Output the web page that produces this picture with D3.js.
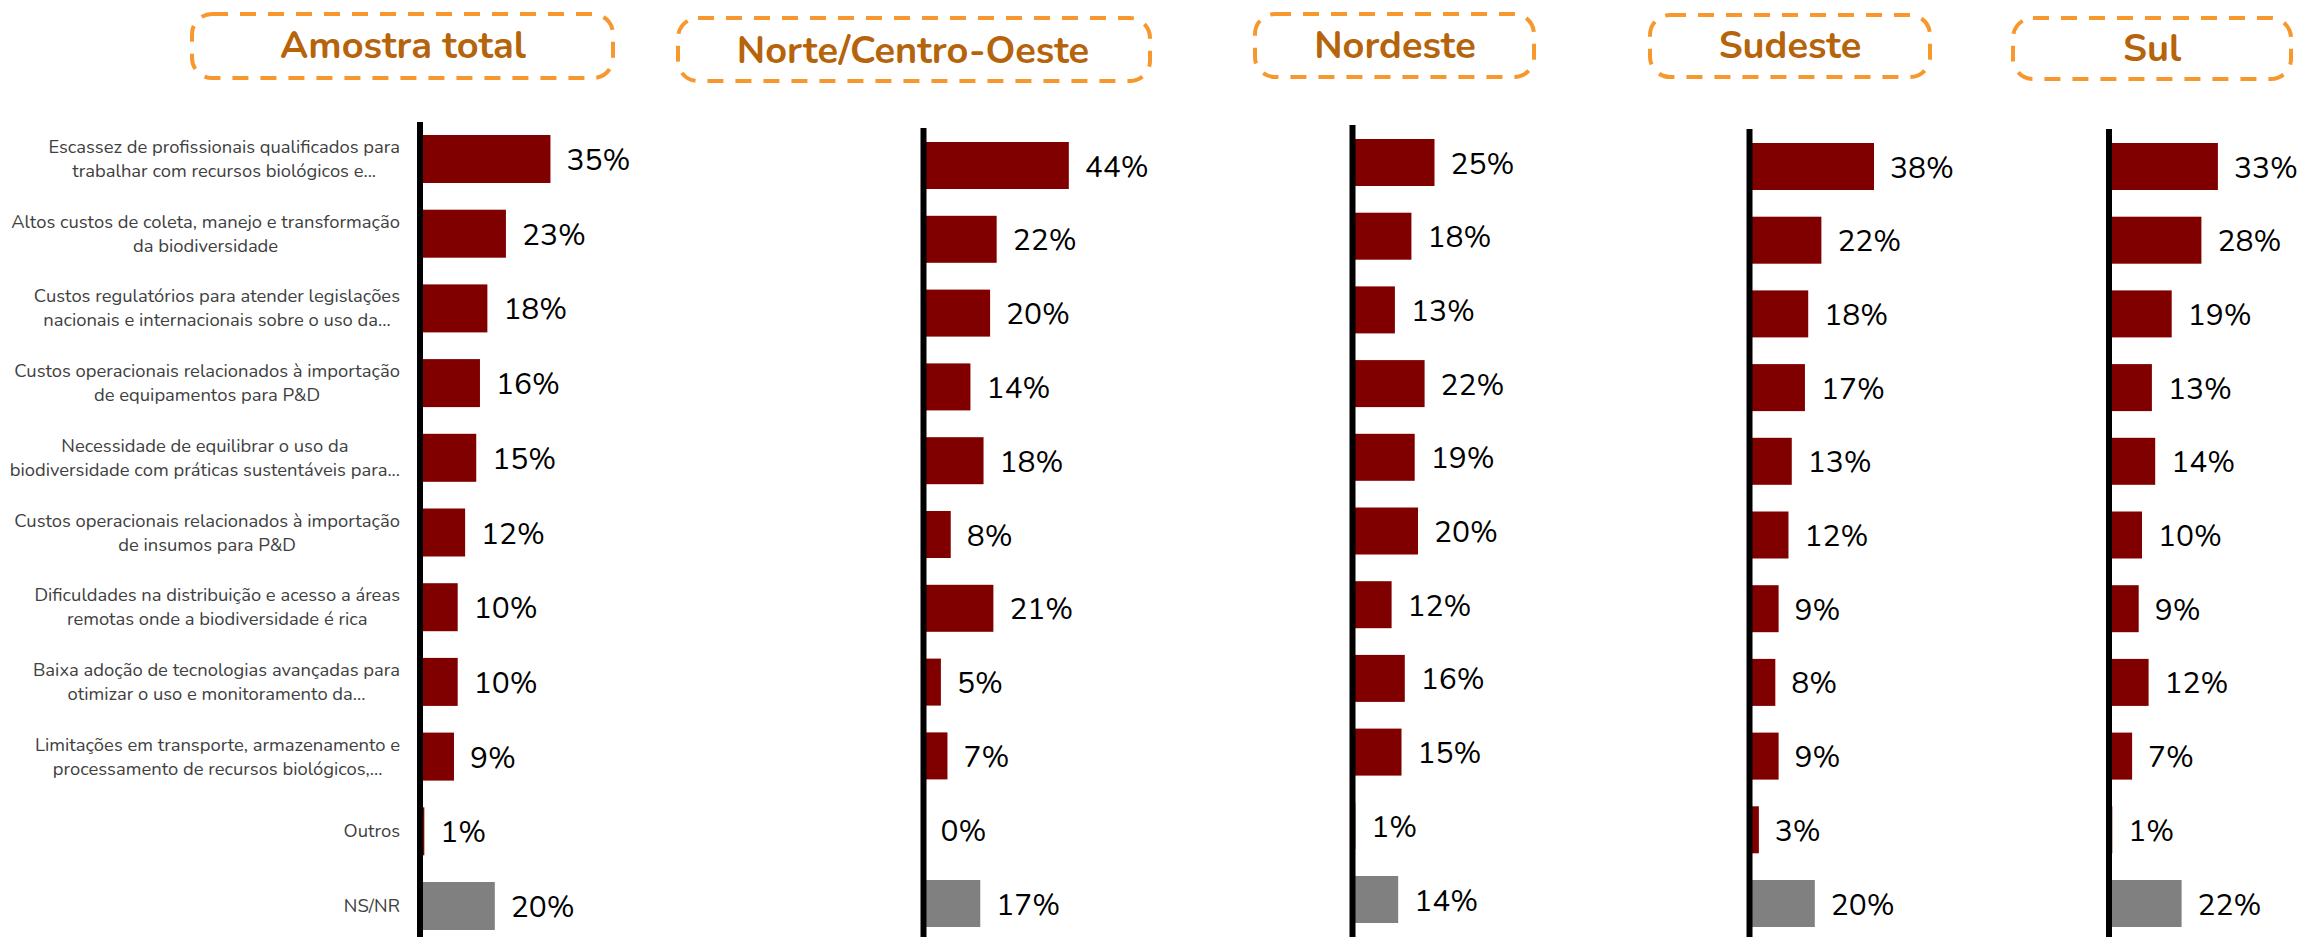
<!DOCTYPE html>
<html lang="pt-BR">
<head>
<meta charset="utf-8">
<title>Desafios no uso da biodiversidade por região</title>
<script src="https://cdn.jsdelivr.net/npm/d3@7"></script>
<style>
  html, body { margin: 0; padding: 0; background: #ffffff; }
  svg { display: block; }
</style>
</head>
<body>
<svg id="chart" width="2298" height="937"></svg>
<script>
// ---- Data -------------------------------------------------------------
const categories = [
  "Escassez de profissionais qualificados para\ntrabalhar com recursos biológicos e...",
  "Altos custos de coleta, manejo e transformação\nda biodiversidade",
  "Custos regulatórios para atender legislações\nnacionais e internacionais sobre o uso da...",
  "Custos operacionais relacionados à importação\nde equipamentos para P&D",
  "Necessidade de equilibrar o uso da\nbiodiversidade com práticas sustentáveis para...",
  "Custos operacionais relacionados à importação\nde insumos para P&D",
  "Dificuldades na distribuição e acesso a áreas\nremotas onde a biodiversidade é rica",
  "Baixa adoção de tecnologias avançadas para\notimizar o uso e monitoramento da...",
  "Limitações em transporte, armazenamento e\nprocessamento de recursos biológicos,...",
  "Outros",
  "NS/NR"
];

const regionTitles = ["Amostra total", "Norte/Centro-Oeste", "Nordeste", "Sudeste", "Sul"];

const amostraTotal     = [35, 23, 18, 16, 15, 12, 10, 10, 9, 1, 20];
const norteCentroOeste = [44, 22, 20, 14, 18, 8, 21, 5, 7, 0, 17];
const nordeste         = [25, 18, 13, 22, 19, 20, 12, 16, 15, 1, 14];
const sudeste          = [38, 22, 18, 17, 13, 12, 9, 8, 9, 3, 20];
const sul              = [33, 28, 19, 13, 14, 10, 9, 12, 7, 1, 22];

const seriesValues = [amostraTotal, norteCentroOeste, nordeste, sudeste, sul];

// ---- Layout -----------------------------------------------------------
const panelLayout = [
  { zero: 420.6, pxPerPct: 3.71, top: 135, step: 74.7, barH: 48, axisX: 420,    axisTop: 122, box: [190, 12, 615, 80],   titleX: 403,  titleY: 58 },
  { zero: 924.5, pxPerPct: 3.28, top: 142, step: 73.8, barH: 47, axisX: 923.5,  axisTop: 128, box: [676, 16, 1152, 83],  titleX: 913,  titleY: 63 },
  { zero: 1352,  pxPerPct: 3.30, top: 139, step: 73.7, barH: 47, axisX: 1352.5, axisTop: 125, box: [1253, 12, 1536, 79], titleX: 1395, titleY: 58 },
  { zero: 1749,  pxPerPct: 3.29, top: 143, step: 73.7, barH: 47, axisX: 1749.5, axisTop: 129, box: [1648, 13, 1932, 79], titleX: 1790, titleY: 58 },
  { zero: 2109,  pxPerPct: 3.30, top: 143, step: 73.7, barH: 47, axisX: 2109,   axisTop: 129, box: [2011, 16, 2293, 81], titleX: 2152, titleY: 61 }
];

const COLOR_BAR = "#800000";
const COLOR_NSNR = "#808080";
const COLOR_TITLE = "#b5640c";
const COLOR_BOX = "#f7982e";
const FONT = "'Nunito', 'Lato', 'Noto Sans', sans-serif";

const svg = d3.select("#chart");

panelLayout.forEach((L, i) => {
  const values = seriesValues[i];
  const g = svg.append("g").attr("class", "panel");

  // Title box with dashed rounded border
  const [bx0, by0, bx1, by1] = L.box;
  g.append("rect")
    .attr("x", bx0 + 2).attr("y", by0 + 2)
    .attr("width", bx1 - bx0 - 4).attr("height", by1 - by0 - 4)
    .attr("rx", 20).attr("ry", 20)
    .attr("fill", "none")
    .attr("stroke", COLOR_BOX)
    .attr("stroke-width", 4)
    .attr("stroke-dasharray", "16 12");

  g.append("text")
    .attr("x", L.titleX).attr("y", L.titleY)
    .attr("text-anchor", "middle")
    .attr("font-family", FONT)
    .attr("font-weight", 700)
    .attr("font-size", 38)
    .attr("fill", COLOR_TITLE)
    .text(regionTitles[i]);

  // Scales
  const padInner = 1 - L.barH / L.step;
  const y = d3.scaleBand()
    .domain(categories)
    .range([L.top, L.top + L.step * (categories.length - padInner)])
    .paddingInner(padInner)
    .paddingOuter(0);
  const x = d3.scaleLinear()
    .domain([0, 100])
    .range([L.zero, L.zero + 100 * L.pxPerPct]);

  // Bars
  g.selectAll("rect.bar")
    .data(categories)
    .join("rect")
    .attr("class", "bar")
    .attr("x", x(0))
    .attr("y", d => y(d))
    .attr("width", (d, k) => x(values[k]) - x(0))
    .attr("height", y.bandwidth())
    .attr("fill", d => d === "NS/NR" ? COLOR_NSNR : COLOR_BAR);

  // Value labels
  g.selectAll("text.value")
    .data(categories)
    .join("text")
    .attr("class", "value")
    .attr("x", (d, k) => x(values[k]) + 16)
    .attr("y", d => y(d) + y.bandwidth() / 2 + 11)
    .attr("font-family", FONT)
    .attr("font-size", 30)
    .attr("fill", "#000")
    .text((d, k) => values[k] + "%");

  // Vertical axis line
  g.append("line")
    .attr("x1", L.axisX).attr("x2", L.axisX)
    .attr("y1", L.axisTop).attr("y2", 937)
    .attr("stroke", "#000")
    .attr("stroke-width", 6);

  // Category labels on the first panel only
  if (i === 0) {
    const right = 400;
    categories.forEach(cat => {
      const lines = cat.split("\n");
      const cy = y(cat) + y.bandwidth() / 2 + 6;
      const t = g.append("text")
        .attr("font-family", FONT)
        .attr("font-size", 18.4)
        .attr("fill", "#404040")
        .attr("text-anchor", "middle");
      const spans = lines.map((ln, j) =>
        t.append("tspan")
          .attr("y", cy + (j - (lines.length - 1) / 2) * 24)
          .text(ln));
      const maxW = d3.max(spans, s => s.node().getComputedTextLength());
      spans.forEach(s => s.attr("x", right - maxW / 2));
    });
  }
});
</script>
</body>
</html>
